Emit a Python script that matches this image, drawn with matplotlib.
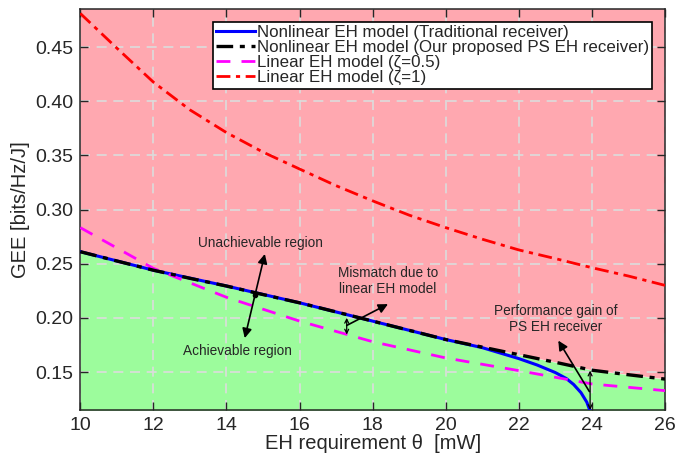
import matplotlib
matplotlib.use('Agg')
import matplotlib.pyplot as plt
import numpy as np

plt.rcParams['font.family'] = ['Liberation Sans', 'DejaVu Sans']

# EH requirement (mW)
theta_even = [10, 12, 14, 16, 18, 20, 22, 24, 26]
theta_ps = [10, 11, 12, 13, 14, 15, 16, 17, 18, 19, 20, 21, 22, 23, 24, 25, 26]

# GEE values
gee_ps = [0.2611, 0.2525, 0.244, 0.2365, 0.2294, 0.2215, 0.2139, 0.2055, 0.197,
          0.1885, 0.180, 0.173, 0.166, 0.159, 0.1517, 0.1475, 0.1435]
theta_trad = [10, 12, 14, 16, 18, 20, 21, 22, 22.5, 23, 23.3, 23.5, 23.7, 23.86,
              23.95, 24.05]
gee_trad = [0.2611, 0.244, 0.2294, 0.2139, 0.197, 0.180, 0.1725, 0.1624, 0.1565,
            0.1495, 0.144, 0.1385, 0.131, 0.1222, 0.114, 0.100]
gee_lin05 = [0.2833, 0.2457, 0.219, 0.197, 0.178, 0.163, 0.1513, 0.139, 0.1328]
gee_lin1 = [0.481, 0.449, 0.4176, 0.392, 0.371, 0.353, 0.3374, 0.322, 0.308,
            0.2948, 0.2833, 0.2726, 0.2627, 0.2547, 0.2463, 0.2386, 0.230]

ymin, ymax = 0.115, 0.485
text_c = '#262626'

fig = plt.figure(figsize=(6.91, 4.55), dpi=100)
ax = fig.add_axes([0.1162, 0.099, 0.8462, 0.881])

# regions
ax.fill_between(theta_ps, 0.0, gee_ps, color='#9cfc9c', lw=0, zorder=1)
ax.fill_between(theta_ps, gee_ps, 1.0, color='#ffa8b0', lw=0, zorder=1)

ax.plot(theta_trad, gee_trad, color='#0000ff', lw=2.2,
        label='Nonlinear EH model (Traditional receiver)', zorder=3)
ax.plot(theta_ps, gee_ps, color='k', lw=2.4, ls=(0, (5, 2, 1.5, 2)),
        label='Nonlinear EH model (Our proposed PS EH receiver)', zorder=4)
ax.plot(theta_even, gee_lin05, color='#ff00ff', lw=2.0, ls=(0, (5, 4)),
        label='Linear EH model (\u03b6=0.5)', zorder=3)
ax.plot(theta_ps, gee_lin1, color='#ff0000', lw=2.0, ls=(0, (5, 2, 1.5, 2)),
        label='Linear EH model (\u03b6=1)', zorder=3)

ax.set_xlim(10, 26)
ax.set_ylim(ymin, ymax)
ax.set_xticks(np.arange(10, 27, 2))
ax.set_yticks([0.15, 0.20, 0.25, 0.30, 0.35, 0.40, 0.45])
ax.yaxis.set_major_formatter(matplotlib.ticker.FormatStrFormatter('%.2f'))
ax.grid(True, color='#dcdcdc', ls=(0, (6, 4)), lw=1.2)
ax.tick_params(direction='in', top=True, right=True, length=6, width=1,
               labelsize=14, colors=text_c, pad=5)
for s in ax.spines.values():
    s.set_color(text_c)
    s.set_linewidth(1.1)

ax.set_xlabel('EH requirement \u03b8  [mW]', fontsize=14.5, color=text_c, labelpad=0)
ax.set_ylabel('GEE [bits/Hz/J]', fontsize=14.5, color=text_c, labelpad=4)

leg = ax.legend(loc='upper right', bbox_to_anchor=(0.978, 0.968), fontsize=12.2,
                frameon=True, fancybox=False, edgecolor='k', facecolor='white',
                framealpha=1, labelspacing=0.0, handlelength=2.3,
                handletextpad=0.1, borderpad=0.2, borderaxespad=0)
leg.get_frame().set_linewidth(1.2)
for t in leg.get_texts():
    t.set_color(text_c)

# annotations
fs = 9.8
arr = dict(arrowstyle='-|>', color='k', lw=1.2, mutation_scale=14,
           shrinkA=0, shrinkB=0)
ax.text(14.92, 0.2692, 'Unachievable region', fontsize=fs, color=text_c,
        ha='center', va='center')
ax.text(14.29, 0.169, 'Achievable region', fontsize=fs, color=text_c,
        ha='center', va='center')
ax.annotate('', xy=(15.05, 0.259), xytext=(14.78, 0.221), arrowprops=arr)
ax.annotate('', xy=(14.5, 0.1813), xytext=(14.78, 0.221), arrowprops=arr)
ax.plot([14.78], [0.221], 'o', color='k', ms=3, zorder=6)

ax.text(18.42, 0.234, 'Mismatch due to\nlinear EH model', fontsize=fs,
        color=text_c, ha='center', va='center', linespacing=1.1)
ax.annotate('', xy=(17.29, 0.200), xytext=(17.29, 0.1846),
            arrowprops=dict(arrowstyle='<->', color='k', lw=0.9,
                            mutation_scale=7, shrinkA=0, shrinkB=0))
ax.annotate('', xy=(18.42, 0.2127), xytext=(17.29, 0.193), arrowprops=arr)

ax.text(23.0, 0.199, 'Performance gain of\nPS EH receiver', fontsize=fs,
        color=text_c, ha='center', va='center', linespacing=1.1)
ax.annotate('', xy=(23.95, 0.1513), xytext=(23.95, ymin),
            arrowprops=dict(arrowstyle='<->', color='k', lw=0.9,
                            mutation_scale=7, shrinkA=0, shrinkB=0))
ax.annotate('', xy=(23.08, 0.179), xytext=(23.93, 0.132), arrowprops=arr)

fig.savefig('out.png', dpi=100)
